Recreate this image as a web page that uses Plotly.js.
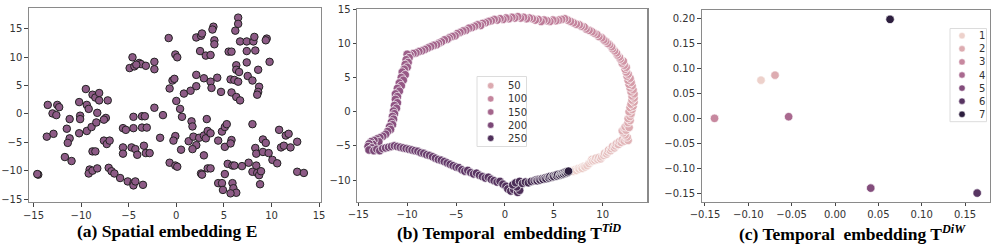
<!DOCTYPE html>
<html><head><meta charset="utf-8">
<script src="https://cdn.plot.ly/plotly-3.0.1.min.js"></script>
<style>html,body{margin:0;padding:0;background:#fff}#chart{width:997px;height:247px}</style>
</head><body><div id="chart"></div>
<script>
// ---------- (a) spatial embedding E ----------
const spaX = [-13.5,-13.0,-12.6,-12.5,-12.3,-13.6,-12.9,-14.5,-14.6,-11.2,-11.5,-11.2,-11.4,-11.7,-11.0,-10.2,-10.1,-10.1,-10.2,-9.5,-9.4,-9.2,-9.4,-8.9,-8.8,-8.5,-8.1,-8.1,-8.3,-8.4,-8.8,-8.5,-9.1,-9.2,-8.8,-8.3,-7.2,-7.4,-7.6,-7.6,-7.3,-7.0,-7.1,-6.8,-6.5,-5.9,-5.1,-4.5,-4.5,-4.3,-3.5,-5.6,-5.3,-5.6,-5.6,-4.7,-4.3,-4.1,-4.5,-4.5,-3.6,-3.1,-3.6,-3.3,-3.4,-3.2,-2.8,-4.6,-4.9,-4.4,-3.9,-3.7,-4.2,-3.2,-2.3,-2.3,-2.3,-1.4,-1.7,-0.8,-0.7,-0.4,-0.2,-0.1,0.1,0.0,-0.1,-0.3,-0.7,-0.1,0.1,0.4,0.6,0.5,0.8,1.5,2.1,2.1,2.1,2.6,2.7,2.5,3.1,3.6,3.9,3.8,4.0,4.0,2.9,3.6,3.7,4.3,4.7,1.6,1.7,1.3,1.8,2.4,2.1,1.7,2.9,3.1,3.3,3.6,3.2,2.9,3.3,3.6,2.6,2.7,4.4,4.8,5.1,5.3,5.1,4.4,4.8,4.9,5.1,5.4,5.9,5.8,5.7,5.9,6.0,6.3,5.7,6.1,5.7,5.8,5.5,5.8,6.2,6.5,6.5,6.3,6.3,6.1,6.6,6.3,6.7,6.5,6.7,7.4,7.4,7.4,7.5,6.9,7.6,8.1,8.2,8.3,8.0,8.0,8.3,8.4,8.0,8.5,8.4,8.7,8.9,8.8,8.6,8.7,8.6,8.5,9.5,9.4,9.8,9.1,9.4,9.1,9.7,10.1,10.6,10.8,11.0,11.3,11.5,11.8,12.0,12.7,12.7,13.4];
const spaY = [1.6,0.1,-0.2,1.6,1.2,-4.0,-3.5,-10.7,-10.6,-0.9,-2.6,-4.3,-5.1,-7.6,-8.3,2.1,-0.3,-0.9,-3.4,4.4,1.6,0.9,-3.0,-2.3,3.4,2.9,3.7,2.4,0.2,-1.5,-6.6,-6.6,-9.8,-10.5,-10.0,-9.6,2.4,-0.7,-1.0,-4.7,-5.3,-4.7,-9.5,-10.1,-10.5,-11.3,-11.9,-12.2,-12.6,-11.9,-12.5,-2.5,-2.8,-5.9,-7.0,-5.9,-6.2,-7.2,-2.5,-0.5,-2.4,-2.4,-0.4,-0.4,-5.6,-6.9,-6.9,10.0,8.1,8.4,9.0,8.8,8.7,8.5,9.2,7.9,1.1,-0.2,-4.2,13.4,4.5,5.9,6.2,10.5,10.0,2.3,-3.9,-4.7,-8.6,-9.1,-9.3,0.9,-0.5,-6.3,3.6,4.1,4.9,6.9,13.5,13.8,14.2,11.1,10.3,10.4,15.4,14.9,13.0,12.3,6.3,5.7,4.6,6.4,3.9,-1.3,-2.2,-4.8,-4.0,-4.2,-5.5,-6.2,-3.8,-4.3,-3.0,-3.4,-0.9,-7.3,-9.6,-9.6,-10.5,-10.7,-4.7,-3.1,-2.3,-1.8,-5.8,-12.2,-12.2,-13.4,-10.6,-8.8,-9.1,-4.6,-5.2,-12.2,-13.1,-13.9,-14.0,-9.1,6.1,3.8,11.0,11.0,14.7,17.0,15.9,8.6,7.8,6.0,7.4,3.0,2.4,5.7,12.8,12.8,11.1,9.1,6.7,-9.2,-8.6,12.8,13.6,11.2,5.9,-1.8,-6.0,-7.0,-10.2,-10.4,-9.1,-10.8,-10.1,-12.4,7.8,4.8,3.9,3.4,13.3,13.0,9.2,-4.5,-5.1,-6.7,-6.9,-8.1,-8.7,-2.8,-5.9,-5.6,-3.8,-3.5,-5.9,-4.9,-10.2,-10.4];

// ---------- (b) temporal embedding T^TiD (time-of-day slot 0..287) ----------
const tidX = [6.9,7.0,7.2,7.3,7.5,7.6,7.8,7.9,8.1,8.2,8.4,8.6,8.8,8.9,9.0,9.2,9.3,9.5,9.6,9.8,9.9,10.1,10.2,10.4,10.5,10.6,10.8,10.9,11.0,11.2,11.3,11.4,11.6,11.7,11.9,12.0,12.2,12.4,12.6,12.5,12.3,12.1,12.0,12.2,12.4,12.3,12.5,12.7,12.6,12.8,12.6,12.8,12.9,12.7,13.0,12.8,13.1,12.9,13.2,13.0,13.2,13.0,13.2,12.9,13.1,12.8,13.0,12.7,12.9,12.6,12.8,12.5,12.6,12.4,12.3,12.4,12.2,12.0,12.1,11.8,11.7,11.5,11.4,11.2,11.0,10.9,10.7,10.5,10.3,10.1,9.9,9.6,9.4,9.1,8.9,8.6,8.3,8.1,7.8,7.6,7.3,7.0,6.7,6.4,6.1,5.8,5.5,5.2,4.9,4.6,4.3,4.0,3.7,3.4,3.1,2.8,2.5,2.2,1.9,1.6,1.3,1.0,0.7,0.4,0.1,-0.2,-0.5,-0.8,-1.1,-1.4,-1.7,-2.0,-2.3,-2.5,-2.8,-3.1,-3.4,-3.7,-4.0,-4.3,-4.6,-4.9,-5.1,-5.4,-5.7,-5.9,-6.2,-6.5,-6.8,-7.0,-7.3,-7.6,-7.9,-8.2,-8.5,-8.8,-9.1,-9.4,-9.7,-10.0,-9.8,-10.1,-9.9,-10.2,-10.0,-10.3,-10.5,-10.2,-10.6,-10.4,-10.8,-10.6,-11.0,-10.8,-11.2,-11.0,-11.2,-11.0,-11.3,-11.1,-11.4,-11.3,-11.5,-11.4,-11.6,-11.5,-11.8,-11.7,-12.0,-12.2,-12.5,-12.8,-13.1,-12.9,-13.4,-13.7,-13.5,-13.9,-14.0,-13.6,-13.9,-13.4,-13.1,-12.8,-12.5,-12.2,-11.9,-11.6,-11.3,-11.0,-10.7,-10.4,-10.1,-9.8,-9.5,-9.2,-8.9,-8.6,-8.3,-8.0,-7.7,-7.4,-7.1,-6.8,-6.5,-6.2,-5.9,-5.6,-5.3,-5.0,-4.7,-4.4,-4.1,-3.8,-3.5,-3.2,-2.9,-2.6,-2.3,-2.0,-1.7,-1.4,-1.1,-0.8,-0.5,-0.2,0.1,0.3,0.6,0.9,1.3,1.5,1.2,0.8,1.1,1.5,1.8,2.1,2.4,2.7,3.0,3.2,3.3,3.5,3.6,3.8,3.9,4.1,4.2,4.4,4.5,4.6,4.8,4.9,5.0,5.2,5.3,5.4,5.6,5.7,5.8,5.9,6.0,6.1,6.2,6.3,6.4,6.5];
const tidY = [-8.6,-8.7,-8.5,-8.6,-8.3,-8.4,-8.2,-8.3,-8.0,-8.1,-7.9,-7.6,-7.3,-7.0,-7.2,-7.1,-6.8,-7.0,-6.7,-6.9,-6.6,-6.4,-6.1,-6.2,-5.9,-5.6,-5.7,-5.4,-5.1,-5.3,-5.0,-4.7,-4.8,-4.4,-4.5,-4.1,-4.3,-4.0,-4.2,-3.7,-3.4,-3.1,-2.8,-2.5,-2.7,-2.2,-1.9,-2.3,-1.6,-1.3,-1.0,-0.7,-0.3,0.0,0.3,0.6,0.8,1.1,1.4,1.7,2.0,2.3,2.6,2.9,3.2,3.5,3.8,4.0,4.3,4.6,4.9,5.2,5.5,5.8,6.2,6.5,6.8,7.1,7.4,7.7,8.0,8.3,8.6,8.9,9.2,9.5,9.8,10.0,10.3,10.5,10.8,11.0,11.3,11.5,11.7,11.9,12.1,12.4,12.5,12.7,12.8,13.0,13.2,13.4,13.6,13.5,13.4,13.3,13.4,13.2,13.3,13.4,13.2,13.5,13.4,13.6,13.7,13.6,13.8,13.7,13.9,13.7,13.8,13.6,13.7,13.5,13.6,13.4,13.5,13.3,13.2,13.0,12.9,12.6,12.7,12.5,12.3,12.2,11.9,11.8,11.6,11.4,11.1,11.0,10.8,10.6,10.5,10.2,10.0,9.8,9.7,9.5,9.3,9.1,8.9,8.8,8.6,8.5,8.3,8.4,7.9,7.6,7.2,6.9,6.5,6.2,5.8,5.4,5.0,4.6,4.2,3.8,3.4,3.0,2.6,2.2,1.8,1.3,0.9,0.5,0.1,-0.3,-0.7,-1.1,-1.5,-1.9,-2.2,-2.6,-2.9,-3.3,-3.6,-3.8,-4.0,-4.4,-4.2,-4.4,-4.8,-4.7,-5.1,-5.3,-5.6,-5.7,-5.5,-5.7,-5.4,-5.3,-5.2,-5.1,-5.0,-5.1,-5.2,-5.3,-5.4,-5.5,-5.6,-5.7,-5.8,-6.0,-6.1,-6.3,-6.4,-6.6,-6.8,-7.0,-7.1,-7.3,-7.5,-7.7,-7.9,-8.1,-8.2,-8.5,-8.7,-8.6,-8.9,-9.1,-9.0,-9.3,-9.5,-9.7,-9.6,-9.9,-10.1,-10.3,-10.2,-10.6,-10.9,-11.3,-11.6,-11.4,-11.8,-11.5,-11.0,-10.7,-10.4,-10.2,-10.5,-10.3,-10.4,-10.2,-10.1,-10.0,-10.1,-9.9,-10.0,-9.8,-9.9,-9.7,-9.8,-9.6,-9.7,-9.5,-9.6,-9.4,-9.5,-9.3,-9.4,-9.2,-9.3,-9.1,-9.2,-9.0,-9.1,-8.9,-9.0,-8.8,-8.9,-8.7];
const tidSlots = tidX.map((_, i) => i);
const tidLegend = [50, 100, 150, 200, 250];

// ---------- (c) temporal embedding T^DiW (day of week) ----------
const diwDays = [1, 2, 3, 4, 5, 6, 7];
const diwX = [-0.0854, -0.0692, -0.139, -0.0535, 0.0412, 0.164, 0.0635];
const diwY = [0.0764, 0.0864, 0.0, 0.0033, -0.1395, -0.1495, 0.198];

// ---------- styling ----------
const W = 997, H = 247;
const px = x => x / W, py = y => 1 - y / H;
const cube = ['#edd1cb', '#daa4ac', '#bd7a98', '#945785', '#613969', '#2d1e3e'];
const cubeScale = cube.map((c, i) => [i / (cube.length - 1), c]);
function cmap(t) {
  t = Math.max(0, Math.min(1, t));
  const n = cube.length - 1, k = Math.min(n - 1, Math.floor(t * n)), f = t * n - k;
  const a = cube[k], b = cube[k + 1];
  const ch = (h, o) => parseInt(h.substr(o, 2), 16);
  const r = [1, 3, 5].map(o => Math.round(ch(a, o) + (ch(b, o) - ch(a, o)) * f));
  return 'rgb(' + r.join(',') + ')';
}
const tickFont = {family: 'DejaVu Sans', size: 10, color: '#333'};
function ax(domain, range, dtick, extra) {
  return Object.assign({domain, range, dtick, showgrid: false, zeroline: false,
    showline: true, mirror: true, linecolor: '#8a8a8a', linewidth: 1.2,
    ticks: 'outside', ticklen: 3.5, tickwidth: 1, tickcolor: '#444',
    tickfont: tickFont, fixedrange: true}, extra || {});
}

const traces = [
  {type: 'scatter', mode: 'markers', x: spaX, y: spaY, xaxis: 'x', yaxis: 'y',
   marker: {size: 7.5, color: '#8d5b86', line: {color: '#222', width: 1}}, showlegend: false, hoverinfo: 'skip'},
  {type: 'scatter', mode: 'markers', x: tidX, y: tidY, xaxis: 'x2', yaxis: 'y2',
   marker: {size: 8.5, color: tidSlots, colorscale: cubeScale, cmin: 0, cmax: tidSlots.length - 1,
            line: {color: '#fff', width: 0.7}}, showlegend: false, hoverinfo: 'skip'},
  {type: 'scatter', mode: 'markers', x: diwX, y: diwY, xaxis: 'x3', yaxis: 'y3',
   marker: {size: 8.5, color: diwDays, colorscale: cubeScale, cmin: 1, cmax: 7,
            line: {color: '#fff', width: 0.7}}, showlegend: false, hoverinfo: 'skip'}
];

const shapes = [], annotations = [];
// legend (b)
shapes.push({type: 'rect', xref: 'paper', yref: 'paper', x0: px(477), x1: px(526.5), y0: py(146.5), y1: py(76.5),
  line: {color: '#dcdcdc', width: 1}, fillcolor: 'rgba(255,255,255,0.85)', layer: 'above'});
tidLegend.forEach((v, i) => {
  const yy = 85.7 + i * 13.15;
  shapes.push({type: 'circle', xref: 'paper', yref: 'paper', xsizemode: 'pixel', ysizemode: 'pixel',
    xanchor: px(490.7), yanchor: py(yy), x0: -3.2, x1: 3.2, y0: -3.2, y1: 3.2,
    fillcolor: cmap(v / (tidSlots.length - 1)), line: {color: '#fff', width: 0.5}, layer: 'above'});
  annotations.push({xref: 'paper', yref: 'paper', x: px(505.5), y: py(yy), xanchor: 'left', yanchor: 'middle',
    text: String(v), showarrow: false, font: tickFont});
});
// legend (c)
shapes.push({type: 'rect', xref: 'paper', yref: 'paper', x0: px(950), x1: px(986.5), y0: py(121.7), y1: py(28.5),
  line: {color: '#dcdcdc', width: 1}, fillcolor: 'rgba(255,255,255,0.85)', layer: 'above'});
diwDays.forEach((v, i) => {
  const yy = 35.7 + i * 13.1;
  shapes.push({type: 'circle', xref: 'paper', yref: 'paper', xsizemode: 'pixel', ysizemode: 'pixel',
    xanchor: px(962), yanchor: py(yy), x0: -3.2, x1: 3.2, y0: -3.2, y1: 3.2,
    fillcolor: cmap((v - 1) / 6), line: {color: '#fff', width: 0.5}, layer: 'above'});
  annotations.push({xref: 'paper', yref: 'paper', x: px(977), y: py(yy), xanchor: 'left', yanchor: 'middle',
    text: String(v), showarrow: false, font: tickFont});
});
// captions
const capFont = {family: 'Liberation Serif, Times New Roman, serif', size: 17.5, color: '#000'};
const nb = '\u00a0';
annotations.push({xref: 'paper', yref: 'paper', x: px(166.5), y: py(231), xanchor: 'center', yanchor: 'middle',
  text: '<b>(a) Spatial embedding E</b>', showarrow: false, font: capFont});
annotations.push({xref: 'paper', yref: 'paper', x: px(509), y: py(231.5), xanchor: 'center', yanchor: 'middle',
  text: '<b>(b) Temporal ' + nb + 'embedding T<sup><i>TiD</i></sup></b>', showarrow: false, font: capFont});
annotations.push({xref: 'paper', yref: 'paper', x: px(852), y: py(232.5), xanchor: 'center', yanchor: 'middle',
  text: '<b>(c) Temporal ' + nb + 'embedding T<sup><i>DiW</i></sup></b>', showarrow: false, font: capFont});

const layout = {
  width: W, height: H, margin: {l: 0, r: 0, t: 0, b: 0}, paper_bgcolor: '#fff', plot_bgcolor: '#fff',
  showlegend: false,
  xaxis: ax([px(29), px(321)], [-15.47, 15.2], 5, {anchor: 'y', tick0: 0}),
  yaxis: ax([py(202), py(8)], [-15.53, 18.7], 5, {anchor: 'x', tick0: 0}),
  xaxis2: ax([px(357.3), px(647.3)], [-15.1, 14.56], 5, {anchor: 'y2', tick0: 0}),
  yaxis2: ax([py(201.7), py(9)], [-13.17, 15.02], 5, {anchor: 'x2', tick0: 0}),
  xaxis3: ax([px(701.7), px(990)], [-0.1538, 0.1788], 0.05, {anchor: 'y3', tick0: 0, tickformat: '.2f'}),
  yaxis3: ax([py(201.7), py(10)], [-0.1667, 0.2167], 0.05, {anchor: 'x3', tick0: 0, tickformat: '.2f'}),
  shapes, annotations
};
Plotly.newPlot('chart', traces, layout, {staticPlot: true, displayModeBar: false});
</script></body></html>
